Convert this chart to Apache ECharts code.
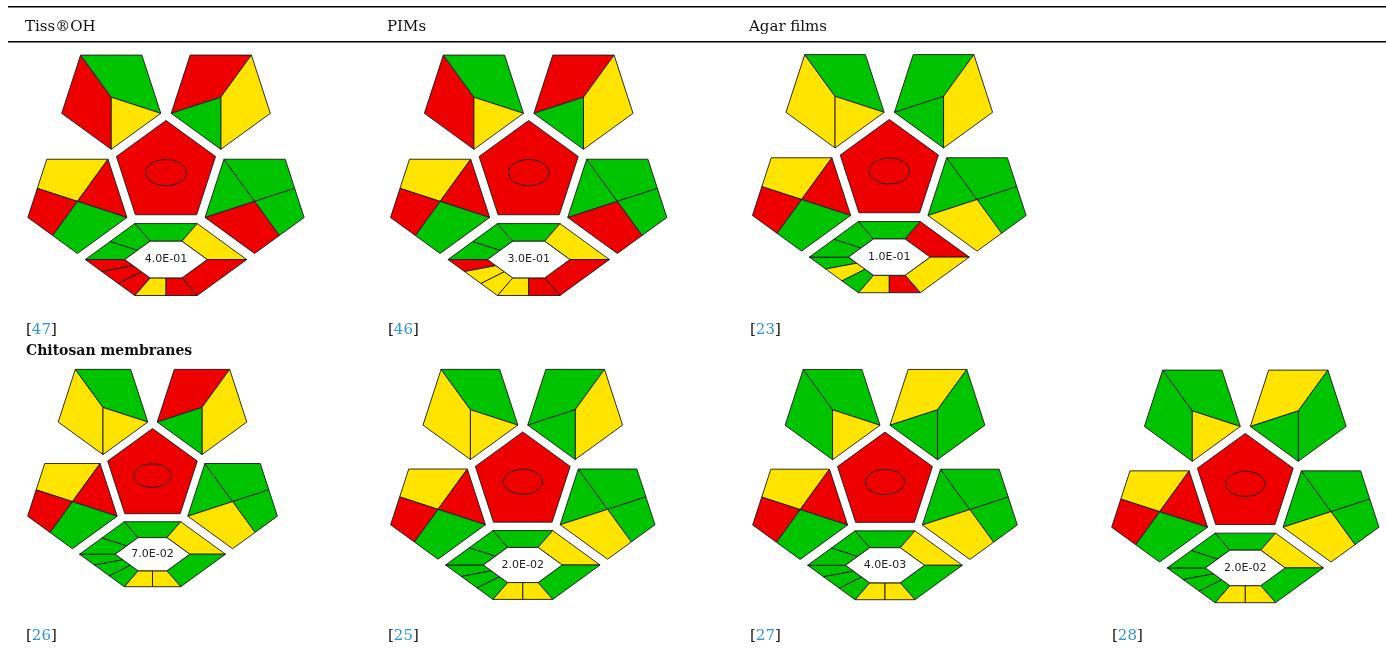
<!DOCTYPE html>
<html>
<head>
<meta charset="utf-8">
<script src="https://cdn.jsdelivr.net/npm/echarts@6/dist/echarts.min.js"></script>
<style>
  html, body { margin: 0; padding: 0; background: #ffffff; }
  #chart { width: 1386px; height: 648px; }
</style>
</head>
<body>
<div id="chart"></div>
<script>
// ---- Table text ----
const columnHeaders = ['Tiss®OH', 'PIMs', 'Agar films'];
const groupHeading = 'Chitosan membranes';
const references = ['47', '46', '23', '26', '25', '27', '28'];
const totals = ['4.0E-01', '3.0E-01', '1.0E-01', '7.0E-02', '2.0E-02', '4.0E-03', '2.0E-02'];

// ---- Field scores (G = green, Y = yellow, R = red) ----
// order: upper-left pentagon (3), upper-right pentagon (3), left pentagon (4),
// right pentagon (4), central pentagon (1),
// hexagon ring: top, upper right, lower right, bottom left, bottom right,
// lower left (3, top to bottom), upper left (2, top to bottom)
const scoresTissOH   = ['R','G','Y', 'R','Y','G', 'Y','R','G','R', 'G','G','G','R', 'R', 'G','Y','R','Y','R', 'R','R','R', 'G','G'];
const scoresPIMs     = ['R','G','Y', 'R','Y','G', 'Y','R','G','R', 'G','G','G','R', 'R', 'G','Y','R','Y','R', 'R','Y','Y', 'G','G'];
const scoresAgar     = ['Y','G','Y', 'G','Y','G', 'Y','R','G','R', 'G','G','G','Y', 'R', 'G','R','Y','Y','R', 'G','Y','G', 'G','G'];
const scoresChit26   = ['Y','G','Y', 'R','Y','G', 'Y','R','G','R', 'G','G','G','Y', 'R', 'G','Y','G','Y','Y', 'G','G','G', 'G','G'];
const scoresChit25   = ['Y','G','Y', 'G','Y','G', 'Y','R','G','R', 'G','G','G','Y', 'R', 'G','Y','G','Y','Y', 'G','G','G', 'G','G'];
const scoresChit27   = ['G','G','Y', 'Y','G','G', 'Y','R','G','R', 'G','G','G','Y', 'R', 'G','Y','G','Y','Y', 'G','G','G', 'G','G'];
const scoresChit28   = ['G','G','Y', 'Y','G','G', 'Y','R','G','R', 'G','G','G','Y', 'R', 'G','Y','G','Y','Y', 'G','G','G', 'G','G'];
const allScores = [scoresTissOH, scoresPIMs, scoresAgar, scoresChit26, scoresChit25, scoresChit27, scoresChit28];

// ---- Layout: pictogram centre (px) and pentagon radius (px) ----
const layout = [
  { cx: 166.0,  cy: 172.6, r: 52.1 },
  { cx: 528.7,  cy: 172.6, r: 52.1 },
  { cx: 889.3,  cy: 171.0, r: 51.6 },
  { cx: 152.5,  cy: 475.6, r: 47.1 },
  { cx: 522.8,  cy: 481.8, r: 49.85 },
  { cx: 885.0,  cy: 482.0, r: 49.9 },
  { cx: 1245.3, cy: 483.8, r: 50.4 }
];
const colX = [26, 388, 750, 1112];

const PALETTE = { G: '#00c300', Y: '#ffe400', R: '#ee0000' };
const EDGE = '#1a1a1a';

// ---- Pictogram geometry in pentagon-radius units (y up) ----
const D2R = Math.PI / 180;
const GAP = 0.17;
const NB = 2 * Math.cos(36 * D2R) + GAP;
function polar(c, r, deg) { return [c[0] + r * Math.cos(deg * D2R), c[1] + r * Math.sin(deg * D2R)]; }
function mid(a, b) { return [(a[0] + b[0]) / 2, (a[1] + b[1]) / 2]; }
function lerp(a, b, t) { return [a[0] + (b[0] - a[0]) * t, a[1] + (b[1] - a[1]) * t]; }
function downPentagon(dirDeg) {
  const c = polar([0, 0], NB, dirDeg);
  return { C: c, TL: polar(c, 1, 126), TR: polar(c, 1, 54), R: polar(c, 1, -18), B: polar(c, 1, -90), L: polar(c, 1, 198) };
}
const pTL = downPentagon(126), pTR = downPentagon(54), pML = downPentagon(198), pMR = downPentagon(-18);
const centrePent = [90, 162, 234, 306, 18].map(a => polar([0, 0], 1, a));
const ELLIPSE = [];
for (let k = 0; k < 72; k++) { const t = k * 5 * D2R; ELLIPSE.push([0.39 * Math.cos(t), 0.25 * Math.sin(t)]); }

const HH = 0.69, HA = 0.6, HW = HA + HH / Math.tan(36 * D2R);
const HC = [0, -(Math.cos(36 * D2R) + GAP + HH)];
const INNER = 0.51;
const oh = { TL: [-HA, HC[1] + HH], TR: [HA, HC[1] + HH], R: [HW, HC[1]], BR: [HA, HC[1] - HH], BL: [-HA, HC[1] - HH], L: [-HW, HC[1]] };
const ih = {};
Object.keys(oh).forEach(k => { ih[k] = [HC[0] + INNER * (oh[k][0] - HC[0]), HC[1] + INNER * (oh[k][1] - HC[1])]; });
const oBm = mid(oh.BL, oh.BR), iBm = mid(ih.BL, ih.BR);
const oUL = mid(oh.TL, oh.L), iUL = mid(ih.TL, ih.L);
const oLL = t => lerp(oh.L, oh.BL, t), iLL = t => lerp(ih.L, ih.BL, t);
const INNER_HEX = [ih.TL, ih.TR, ih.R, ih.BR, ih.BL, ih.L];

const FIELDS = [
  [pTL.TL, pTL.C, pTL.B, pTL.L],
  [pTL.TL, pTL.TR, pTL.R, pTL.C],
  [pTL.C, pTL.R, pTL.B],
  [pTR.L, pTR.TL, pTR.TR, pTR.C],
  [pTR.TR, pTR.R, pTR.B, pTR.C],
  [pTR.L, pTR.C, pTR.B],
  [pML.TL, pML.TR, pML.C, mid(pML.TL, pML.L)],
  [pML.TR, pML.R, pML.C],
  [pML.C, pML.R, pML.B, mid(pML.L, pML.B)],
  [mid(pML.TL, pML.L), pML.C, mid(pML.L, pML.B), pML.L],
  [pMR.L, pMR.TL, pMR.C],
  [pMR.TL, pMR.TR, mid(pMR.TR, pMR.R), pMR.C],
  [pMR.C, mid(pMR.TR, pMR.R), pMR.R, mid(pMR.R, pMR.B)],
  [pMR.L, pMR.C, mid(pMR.R, pMR.B), pMR.B],
  centrePent,
  [oh.TL, oh.TR, ih.TR, ih.TL],
  [oh.TR, oh.R, ih.R, ih.TR],
  [oh.R, oh.BR, ih.BR, ih.R],
  [ih.BL, iBm, oBm, oh.BL],
  [iBm, ih.BR, oh.BR, oBm],
  [oLL(0), oLL(1 / 3), iLL(1 / 3), iLL(0)],
  [oLL(1 / 3), oLL(2 / 3), iLL(2 / 3), iLL(1 / 3)],
  [oLL(2 / 3), oLL(1), iLL(1), iLL(2 / 3)],
  [oh.TL, oUL, iUL, ih.TL],
  [oUL, oh.L, ih.L, iUL]
];
const CENTRE_INDEX = 14;

let xmin = Infinity, xmax = -Infinity, ymin = Infinity, ymax = -Infinity;
FIELDS.forEach(f => f.forEach(p => {
  xmin = Math.min(xmin, p[0]); xmax = Math.max(xmax, p[0]);
  ymin = Math.min(ymin, p[1]); ymax = Math.max(ymax, p[1]);
}));

function makeRender(scores, total) {
  return function (params, api) {
    const i = params.dataIndex;
    if (i < FIELDS.length) {
      const poly = {
        type: 'polygon',
        shape: { points: FIELDS[i].map(p => api.coord(p)) },
        style: { fill: PALETTE[scores[i]], stroke: EDGE, lineWidth: 0.9 }
      };
      if (i === CENTRE_INDEX) {
        return { type: 'group', children: [poly, {
          type: 'polygon',
          shape: { points: ELLIPSE.map(p => api.coord(p)) },
          style: { fill: 'none', stroke: EDGE, lineWidth: 1 }
        }] };
      }
      return poly;
    }
    const c = api.coord(HC);
    return { type: 'group', children: [
      { type: 'polygon', shape: { points: INNER_HEX.map(p => api.coord(p)) }, style: { fill: '#ffffff', stroke: EDGE, lineWidth: 0.9 } },
      { type: 'text', x: c[0], y: c[1], style: { text: total, font: '11px "DejaVu Sans"', fill: '#222222', align: 'center', verticalAlign: 'middle' } }
    ] };
  };
}

const grids = [], xAxes = [], yAxes = [], series = [];
layout.forEach((l, k) => {
  grids.push({ left: l.cx + l.r * xmin, top: l.cy - l.r * ymax, width: l.r * (xmax - xmin), height: l.r * (ymax - ymin), show: false });
  xAxes.push({ type: 'value', gridIndex: k, min: xmin, max: xmax, show: false });
  yAxes.push({ type: 'value', gridIndex: k, min: ymin, max: ymax, show: false });
  const data = [];
  for (let j = 0; j <= FIELDS.length; j++) data.push([0, 0]);
  series.push({
    type: 'custom', xAxisIndex: k, yAxisIndex: k, coordinateSystem: 'cartesian2d',
    clip: false, silent: true, animation: false,
    renderItem: makeRender(allScores[k], totals[k]), data: data
  });
});

// ---- Table rules and text ----
const SERIF = '"DejaVu Serif"';
const graphics = [
  { type: 'line', shape: { x1: 8, y1: 6.7, x2: 1386, y2: 6.7 }, style: { stroke: '#000', lineWidth: 1.5 } },
  { type: 'line', shape: { x1: 8, y1: 41.7, x2: 1386, y2: 41.7 }, style: { stroke: '#000', lineWidth: 1.5 } }
];
columnHeaders.forEach((h, k) => {
  graphics.push({ type: 'text', x: colX[k] - 1, y: 27, style: { text: h, font: '15px ' + SERIF, fill: '#111', verticalAlign: 'middle' } });
});
graphics.push({ type: 'text', x: colX[0], y: 351, style: { text: groupHeading, font: 'bold 14px ' + SERIF, fill: '#111', verticalAlign: 'middle' } });
const refRows = [330, 330, 330, 636.5, 636.5, 636.5, 636.5];
const refCols = [0, 1, 2, 0, 1, 2, 3];
references.forEach((r, k) => {
  graphics.push({ type: 'text', x: colX[refCols[k]], y: refRows[k], style: {
    text: '{b|[}{n|' + r + '}{b|]}', verticalAlign: 'middle', font: '15px ' + SERIF,
    rich: { b: { fill: '#111', fontSize: 15, fontFamily: 'DejaVu Serif' }, n: { fill: '#2b95d6', fontSize: 15, fontFamily: 'DejaVu Serif' } }
  } });
});

const chart = echarts.init(document.getElementById('chart'), null, { renderer: 'canvas' });
chart.setOption({
  backgroundColor: '#ffffff',
  animation: false,
  grid: grids, xAxis: xAxes, yAxis: yAxes, series: series,
  graphic: graphics
});
</script>
</body>
</html>
